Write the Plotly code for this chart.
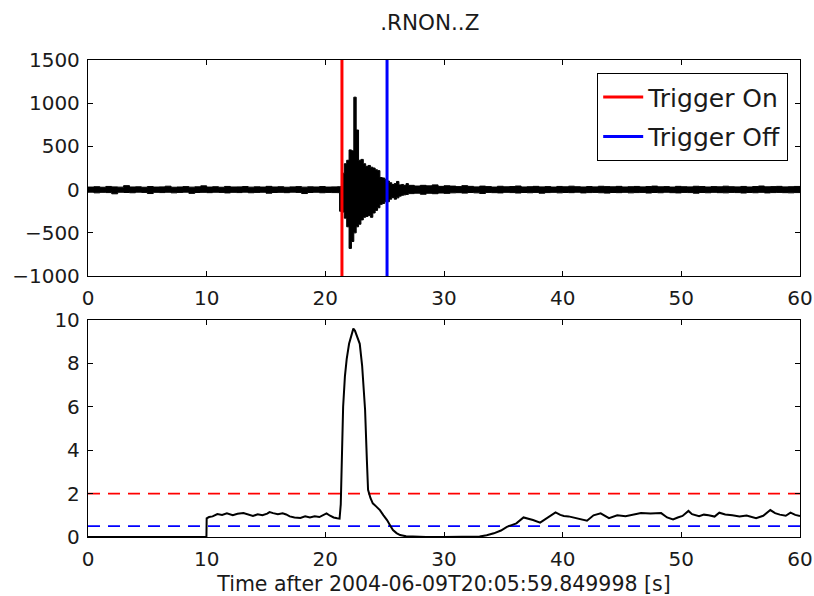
import numpy as np
import plotly.graph_objects as go
from plotly.subplots import make_subplots

# ---- seismogram envelope (per-bin max / min of the raw trace, counts) ----
# quiet part before the event, 0.5 s bins starting at 0.0 s
pre_start, pre_step = 0.0, 0.5
pre_hi = [30, 34, 28, 37, 32, 29, 46, 31, 33, 28, 36, 30, 32, 40, 28, 31, 35, 29, 33, 44, 30, 34,
          28, 37, 31, 32, 36, 29, 33, 30, 38, 31, 34, 28, 32, 35, 29, 33, 31, 36, 30, 32, 34]
pre_lo = [-32, -29, -37, -31, -34, -48, -30, -33, -36, -29, -32, -45, -31, -34, -30, -37, -32, -29,
          -43, -33, -31, -35, -30, -32, -38, -31, -34, -29, -36, -32, -30, -41, -33, -31, -35, -29,
          -32, -45, -33, -30, -36, -32, -34]

# event, 0.2 s bins starting at 21.2 s
evt_start, evt_step = 21.2, 0.2
evt_hi = [35, 190, 300, 340, 460, 450, 1070, 690, 340, 350, 300, 270, 280, 260, 250, 230, 220,
          140, 135, 120, 100, 80, 60, 70, 95, 55, 60, 50, 70, 50]
evt_lo = [-35, -250, -260, -330, -430, -680, -600, -500, -430, -400, -350, -320, -310, -300, -320,
          -270, -240, -210, -170, -160, -140, -140, -110, -90, -110, -95, -75, -65, -60, -55]

# coda and quiet tail, 0.5 s bins starting at 27.5 s
post_start, post_step = 27.5, 0.5
post_hi = [42, 50, 44, 55, 38, 45, 41, 35, 46, 38, 32, 41, 35, 30, 39, 33, 36, 42, 31, 34, 38, 32,
           35, 30, 37, 33, 40, 34, 31, 36, 32, 39, 35, 33, 38, 31, 34, 37, 32, 36, 41, 33, 35, 30,
           38, 34, 32, 39, 36, 31, 35, 33, 40, 34, 32, 37, 31, 36, 42, 33, 35, 38, 32, 34, 37, 33]
post_lo = [-46, -41, -53, -42, -47, -39, -43, -37, -35, -40, -33, -37, -44, -32, -35, -38, -31,
           -34, -39, -33, -36, -32, -41, -34, -31, -37, -33, -35, -30, -38, -34, -32, -36, -40,
           -33, -35, -31, -37, -34, -32, -39, -33, -36, -30, -35, -38, -32, -34, -41, -33, -36,
           -31, -35, -37, -32, -34, -39, -33, -36, -31, -38, -34, -32, -35, -37, -34]

# ---- trigger times (s) ----
trigger_on_t = 21.4
trigger_off_t = 25.2

# ---- STA/LTA characteristic function ----
cf_t = [0.0, 9.98, 10.0, 10.2, 10.5, 10.9, 11.3, 11.7, 12.2, 12.6, 13.1, 13.5, 13.9, 14.3, 14.7,
        15.1, 15.3, 15.6, 16.0, 16.4, 16.7, 17.0, 17.4, 17.9, 18.3, 18.7, 19.1, 19.5, 19.8, 20.1,
        20.4, 20.7, 21.0, 21.2, 21.3, 21.4, 21.5, 21.65, 21.8, 22.0, 22.2, 22.36, 22.5, 22.7, 22.9,
        23.1, 23.35, 23.5, 23.6, 23.8, 24.0, 24.3, 24.6, 24.9, 25.2, 25.5, 25.7, 26.0, 26.3, 26.8,
        27.5, 28.5, 30.0, 31.5, 33.0, 33.6, 34.2, 34.8, 35.3, 35.7, 36.1, 36.7, 37.1, 37.5, 38.1,
        38.7, 39.4, 39.8, 40.1, 40.5, 40.9, 41.5, 42.05, 42.6, 43.2, 43.9, 44.6, 45.3, 46.0, 46.6,
        47.4, 48.3, 48.8, 49.3, 49.7, 50.1, 50.6, 50.9, 51.5, 51.9, 52.3, 52.8, 53.2, 53.7, 54.3,
        54.9, 55.5, 55.9, 56.3, 56.9, 57.5, 57.9, 58.3, 58.8, 59.2, 59.6, 60.0]
cf_v = [0.0, 0.0, 0.86, 0.92, 0.95, 1.06, 1.02, 1.09, 1.0, 1.07, 1.1, 1.02, 0.97, 1.05, 1.0,
        1.08, 1.15, 1.1, 1.05, 1.09, 1.04, 0.95, 0.9, 0.88, 0.95, 0.9, 0.96, 0.92, 1.0, 1.09,
        0.98, 0.9, 0.86, 0.85, 1.5, 4.0, 6.0, 7.4, 8.2, 8.9, 9.35, 9.6, 9.5, 9.2, 8.9,
        7.9, 5.85, 3.55, 2.17, 1.8, 1.55, 1.4, 1.24, 1.0, 0.78, 0.5, 0.32, 0.18, 0.09, 0.03,
        0.01, 0.0, 0.0, 0.0, 0.02, 0.08, 0.17, 0.3, 0.47, 0.55, 0.63, 0.9, 0.85, 0.78, 0.66,
        0.87, 1.13, 1.02, 0.97, 0.95, 0.9, 0.84, 0.75, 1.0, 1.09, 0.87, 1.0, 0.96, 1.02, 1.1,
        1.08, 1.1, 0.9, 0.81, 0.9, 0.97, 1.2, 1.05, 0.96, 1.03, 1.0, 0.94, 1.12, 1.04, 1.0,
        0.95, 0.99, 0.93, 0.87, 0.98, 1.24, 1.1, 1.03, 0.98, 1.12, 1.02, 0.97]

# ---- trigger thresholds ----
thr_on = 2.0
thr_off = 0.5

x_ticks = [0, 10, 20, 30, 40, 50, 60]
y1_ticks = [-1000, -500, 0, 500, 1000, 1500]
y2_ticks = [0, 2, 4, 6, 8, 10]

RED = "#ff0000"
BLUE = "#0000ff"
FONT = "DejaVu Sans"
TXT = "#1a1a1a"


def seg_times(start, step, n):
    return [start + step * i for i in range(n)]


env_t = (seg_times(pre_start, pre_step, len(pre_hi))
         + seg_times(evt_start, evt_step, len(evt_hi))
         + seg_times(post_start, post_step, len(post_hi)))
env_hi = pre_hi + evt_hi + post_hi
env_lo = pre_lo + evt_lo + post_lo
assert len(env_t) == len(env_hi) == len(env_lo)

fig = make_subplots(rows=2, cols=1, vertical_spacing=0.0)

# waveform band: upper envelope forward, lower envelope back
poly_x = env_t + env_t[::-1]
poly_y = env_hi + env_lo[::-1]
fig.add_trace(go.Scatter(x=poly_x, y=poly_y, mode="lines", fill="toself",
                         fillcolor="black", line=dict(color="black", width=1, shape="hv"),
                         showlegend=False, hoverinfo="skip"), row=1, col=1)

fig.add_trace(go.Scatter(x=[trigger_on_t, trigger_on_t], y=[y1_ticks[0], y1_ticks[-1]],
                         mode="lines", line=dict(color=RED, width=3), name="Trigger On",
                         legendgroup="on"), row=1, col=1)
fig.add_trace(go.Scatter(x=[trigger_off_t, trigger_off_t], y=[y1_ticks[0], y1_ticks[-1]],
                         mode="lines", line=dict(color=BLUE, width=3), name="Trigger Off",
                         legendgroup="off"), row=1, col=1)

# characteristic function and thresholds
fig.add_trace(go.Scatter(x=[x_ticks[0], x_ticks[-1]], y=[thr_on, thr_on], mode="lines",
                         line=dict(color=RED, width=1.6, dash="12px,8px"), showlegend=False),
              row=2, col=1)
fig.add_trace(go.Scatter(x=[x_ticks[0], x_ticks[-1]], y=[thr_off, thr_off], mode="lines",
                         line=dict(color=BLUE, width=1.6, dash="12px,8px"), showlegend=False),
              row=2, col=1)
fig.add_trace(go.Scatter(x=cf_t, y=cf_v, mode="lines", line=dict(color="black", width=2),
                         showlegend=False), row=2, col=1)

axis_common = dict(showline=True, linecolor="black", linewidth=1.3, mirror="ticks",
                   ticks="inside", ticklen=5, tickcolor="black", tickwidth=1,
                   showgrid=False, zeroline=False, automargin=False,
                   tickfont=dict(family=FONT, size=20, color=TXT))

fig.update_xaxes(range=[x_ticks[0], x_ticks[-1]], tickvals=x_ticks, ticklabelstandoff=4,
                 **axis_common)
fig.update_xaxes(domain=[0, 1])
fig.update_yaxes(ticklabelstandoff=3, **axis_common)
fig.update_yaxes(range=[y1_ticks[0], y1_ticks[-1]], tickvals=y1_ticks, domain=[0.547, 1.0],
                 row=1, col=1)
fig.update_yaxes(range=[y2_ticks[0], y2_ticks[-1]], tickvals=y2_ticks, domain=[0.0, 0.455],
                 row=2, col=1)
fig.update_xaxes(title=dict(text="Time after 2004-06-09T20:05:59.849998 [s]",
                            font=dict(family=FONT, size=20.5, color=TXT), standoff=8),
                 row=2, col=1)

fig.update_layout(
    width=814, height=596,
    margin=dict(l=88, r=14, t=60, b=59, autoexpand=False),
    paper_bgcolor="white", plot_bgcolor="white",
    title=dict(text=".RNON..Z", xref="paper", x=0.48, xanchor="center",
               y=1 - 22 / 596, yanchor="middle",
               font=dict(family=FONT, size=21.5, color=TXT)),
    legend=dict(x=0.983, y=0.973, xanchor="right", yanchor="top",
                bordercolor="black", borderwidth=1.3, bgcolor="white",
                font=dict(family=FONT, size=25, color=TXT), itemwidth=40,
                entrywidth=185, entrywidthmode="pixels",
                traceorder="grouped", tracegroupgap=4),
    showlegend=True,
)

fig.write_html("out.html")
